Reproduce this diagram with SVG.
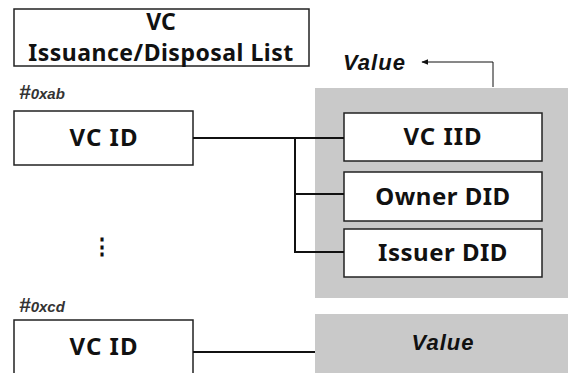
<svg xmlns="http://www.w3.org/2000/svg" width="568" height="373" viewBox="0 0 568 373">
<style>
.box{fill:#fff;stroke:#222;stroke-width:1.5}
.t{font-family:"Noto Sans","Open Sans",sans-serif;font-weight:bold;fill:#111;text-anchor:middle}
.lbl{font-family:"Liberation Sans",Arial,sans-serif;font-weight:bold;font-style:italic;fill:#111}
.hash{font-family:"Liberation Sans",Arial,sans-serif;font-weight:bold;font-style:italic;fill:#333}
.conn{fill:none;stroke:#111;stroke-width:2}
.gray{fill:#c9c9c9}
</style>
<defs>
<marker id="ah" viewBox="0 0 10 10" refX="9" refY="5" markerWidth="7" markerHeight="7" orient="auto">
<path d="M0,1 L10,5 L0,9 Z" fill="#111"/>
</marker>
</defs>
<g id="title">
<rect class="box" x="14" y="9" width="295" height="57"/>
<text class="t" x="161" y="30" font-size="23">VC</text>
<text class="t" x="161" y="61" font-size="23" letter-spacing="0.5">Issuance/Disposal List</text>
</g>
<g id="value-panel">
<rect class="gray" x="315" y="88" width="253" height="210"/>
</g>
<g id="value-label">
<text class="lbl" x="343" y="70" font-size="22" letter-spacing="1">Value</text>
</g>
<g id="key1">
<text class="hash" x="19" y="99"><tspan font-size="21">#</tspan><tspan font-size="15">0xab</tspan></text>
<rect class="box" x="14" y="111" width="179" height="54"/>
<text class="t" x="104" y="146" font-size="24" letter-spacing="1">VC ID</text>
</g>
<g id="vc-iid">
<rect class="box" x="344" y="113" width="198" height="48"/>
<text class="t" x="443" y="145" font-size="24" letter-spacing="1">VC IID</text>
</g>
<g id="owner-did">
<rect class="box" x="344" y="172" width="198" height="49"/>
<text class="t" x="443" y="205" font-size="24" letter-spacing="0.5">Owner DID</text>
</g>
<g id="issuer-did">
<rect class="box" x="344" y="229" width="198" height="48"/>
<text class="t" x="443" y="261" font-size="24" letter-spacing="0.5">Issuer DID</text>
</g>
<g id="ellipsis">
<text class="t" x="102" y="254" font-size="22">⋮</text>
</g>
<g id="key2">
<text class="hash" x="19" y="312"><tspan font-size="21">#</tspan><tspan font-size="15">0xcd</tspan></text>
<rect class="box" x="14" y="320" width="179" height="70"/>
<text class="t" x="104" y="355" font-size="24" letter-spacing="1">VC ID</text>
</g>
<g id="value2">
<rect class="gray" x="315" y="314" width="253" height="70"/>
<text class="lbl" x="443" y="350" font-size="22" letter-spacing="1" text-anchor="middle">Value</text>
</g>
<g id="connectors">
<path class="conn" d="M193,138 H344"/>
<path class="conn" d="M295,138 V252 H344"/>
<path class="conn" d="M295,194 H344"/>
<path class="conn" d="M193,352 H315" stroke-width="1.5"/>
<path d="M493,87 V62 H422" fill="none" stroke="#111" stroke-width="1" marker-end="url(#ah)"/>
</g>
</svg>
